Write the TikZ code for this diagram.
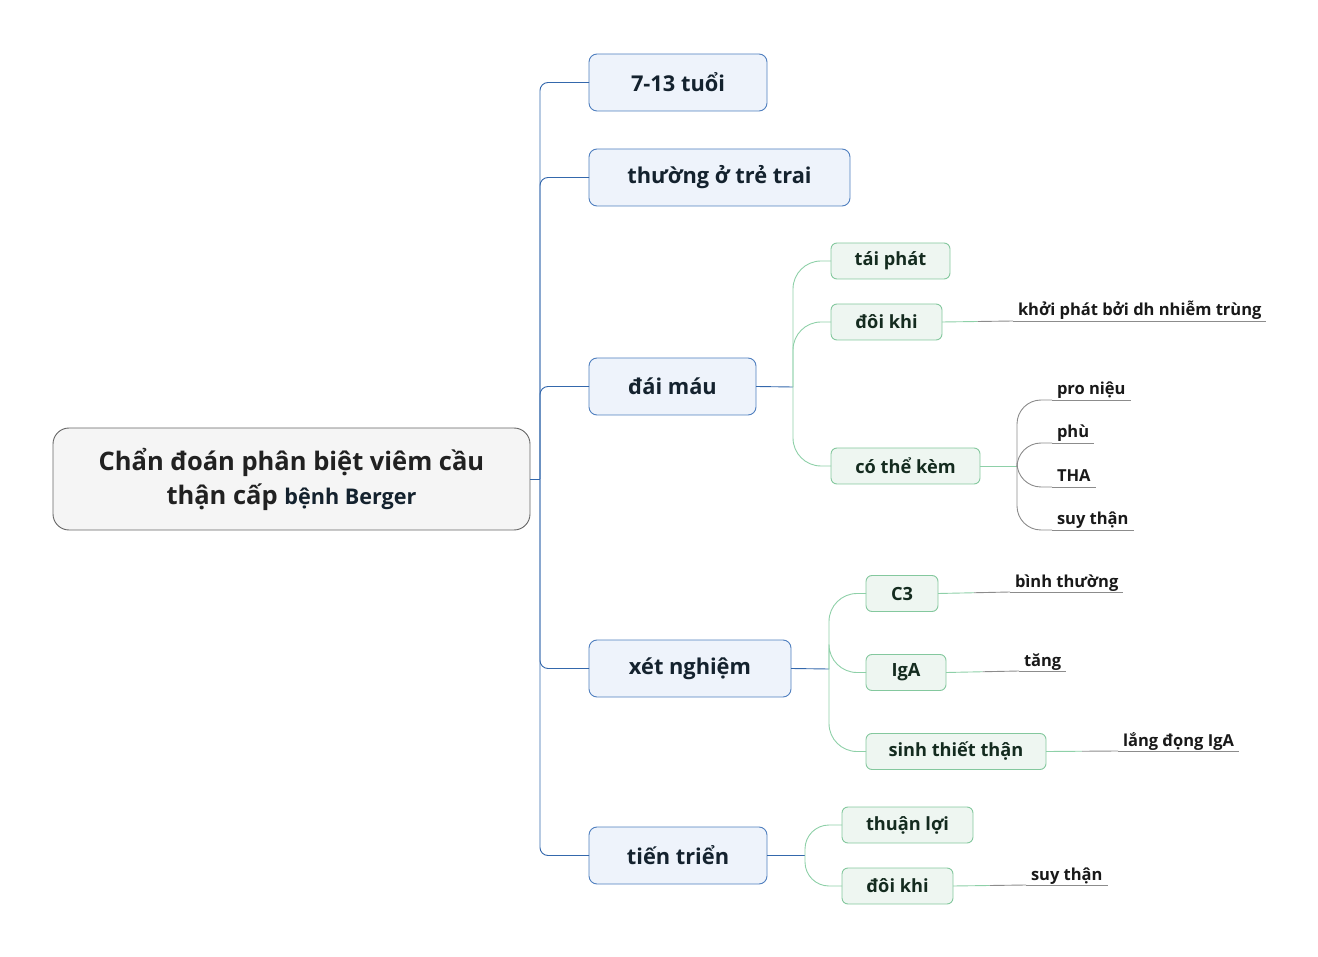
\documentclass[tikz,border=0pt]{standalone}
\usepackage{fontspec}
\setmainfont{Open Sans}[UprightFont=* Bold]
\usetikzlibrary{calc}
\begin{document}
\begin{tikzpicture}[x=1pt,y=-1pt,
  every node/.style={inner sep=0pt, outer sep=0pt},
  rootbox/.style={draw=black!60, line width=0.9pt, fill=black!4, rounded corners=16pt, minimum width=477pt, minimum height=102pt, align=center, text=black!87, font=\fontsize{25.5}{34}\selectfont},
  bluebox/.style={draw=bluebd, line width=0.9pt, fill=bluefl, rounded corners=8pt, minimum height=57pt, text=txtdark, font=\fontsize{21.8}{26}\selectfont},
  greenbox/.style={draw=greenbd, line width=0.9pt, fill=greenfl, rounded corners=6pt, minimum height=36pt, text=txtgreen, font=\fontsize{18.2}{22}\selectfont},
  leaf/.style={anchor=south west, inner xsep=5pt, inner ysep=1pt, text depth=4pt, text=black!90, font=\fontsize{16.5}{19}\selectfont},
  blueline/.style={draw=blueln, line width=0.9pt},
  greenline/.style={draw=greenln, line width=0.9pt},
  grayline/.style={draw=grayln, line width=0.9pt},
]
\definecolor{bluebd}{HTML}{4F7FBF}
\definecolor{bluefl}{HTML}{EEF3FB}
\definecolor{blueln}{HTML}{3468AC}
\definecolor{greenbd}{HTML}{84C89E}
\definecolor{greenfl}{HTML}{EEF6F1}
\definecolor{greenln}{HTML}{8ED0A8}
\definecolor{grayln}{HTML}{8C8C8C}
\definecolor{txtdark}{HTML}{14222E}
\definecolor{txtgreen}{HTML}{142B1F}
\useasboundingbox (0,0) rectangle (1318,957);

% root
\node[rootbox] (root) at (291.5,479) {Chẩn đoán phân biệt viêm cầu\\thận cấp {\fontsize{21.6}{34}\selectfont\color{txtdark}bệnh Berger}};

% level 1
\node[bluebox, minimum width=178pt] (a1) at (678,82.5) {7-13 tuổi};
\node[bluebox, minimum width=261pt] (a2) at (719.5,177.5) {thường ở trẻ trai};
\node[bluebox, minimum width=167pt] (a3) at (672.5,386.5) {đái máu};
\node[bluebox, minimum width=202pt] (a4) at (690,668.5) {xét nghiệm};
\node[bluebox, minimum width=178pt] (a5) at (678,855.5) {tiến triển};

\coordinate (j0) at (540,479);
\draw[blueline] (root.east) -- (j0);
\foreach \n in {a1,a2,a3,a4,a5}{\draw[blueline, rounded corners=8pt] (j0) |- (\n.west);}

% level 2 under đái máu
\node[greenbox, minimum width=119pt] (b1) at (890.5,261) {tái phát};
\node[greenbox, minimum width=111pt] (b2) at (886.5,322) {đôi khi};
\node[greenbox, minimum width=149pt] (b3) at (905.5,466) {có thể kèm};
\coordinate (j1) at (793,387);
\draw[blueline] (a3.east) -- (j1);
\foreach \n in {b1,b2,b3}{\draw[greenline, rounded corners=28pt] (j1) |- (\n.west);}

% level 2 under xét nghiệm
\node[greenbox, minimum width=72pt] (c1) at (902,593.5) {C3};
\node[greenbox, minimum width=80pt] (c2) at (906,672.5) {IgA};
\node[greenbox, minimum width=180pt] (c3) at (956,751.5) {sinh thiết thận};
\coordinate (j2) at (829,669);
\draw[blueline] (a4.east) -- (j2);
\foreach \n in {c1,c2,c3}{\draw[greenline, rounded corners=28pt] (j2) |- (\n.west);}

% level 2 under tiến triển
\node[greenbox, minimum width=131pt] (d1) at (907.5,825) {thuận lợi};
\node[greenbox, minimum width=111pt] (d2) at (897.5,886) {đôi khi};
\coordinate (j3) at (805,855.5);
\draw[blueline] (a5.east) -- (j3);
\foreach \n in {d1,d2}{\draw[greenline, rounded corners=24pt] (j3) |- (\n.west);}

% leaves
\node[leaf] (e1) at (1013,321) {khởi phát bởi dh nhiễm trùng};
\node[leaf] (f1) at (1052,400) {pro niệu};
\node[leaf] (f2) at (1052,443) {phù};
\node[leaf] (f3) at (1052,487) {THA};
\node[leaf] (f4) at (1052,530) {suy thận};
\node[leaf] (g1) at (1010,592) {bình thường};
\node[leaf] (g2) at (1019,671) {tăng};
\node[leaf] (g3) at (1118,751) {lắng đọng IgA};
\node[leaf] (h1) at (1026,885) {suy thận};
\foreach \n in {e1,f1,f2,f3,f4,g1,g2,g3,h1}{\draw[grayline] (\n.south west) -- (\n.south east);}

% leaf connectors
\draw[greenline] (b2.east) -- ($(b2.east)!0.5!(e1.south west)$) coordinate (m1);
\draw[grayline] (m1) -- (e1.south west);
\coordinate (j4) at (1017,466);
\draw[greenline] (b3.east) -- (j4);
\foreach \n in {f1,f2,f3,f4}{\draw[grayline, rounded corners=24pt] (j4) |- (\n.south west);}
\draw[greenline] (c1.east) -- ($(c1.east)!0.5!(g1.south west)$) coordinate (m2);
\draw[grayline] (m2) -- (g1.south west);
\draw[greenline] (c2.east) -- ($(c2.east)!0.5!(g2.south west)$) coordinate (m3);
\draw[grayline] (m3) -- (g2.south west);
\draw[greenline] (c3.east) -- ($(c3.east)!0.5!(g3.south west)$) coordinate (m4);
\draw[grayline] (m4) -- (g3.south west);
\draw[greenline] (d2.east) -- ($(d2.east)!0.5!(h1.south west)$) coordinate (m5);
\draw[grayline] (m5) -- (h1.south west);
\end{tikzpicture}
\end{document}
